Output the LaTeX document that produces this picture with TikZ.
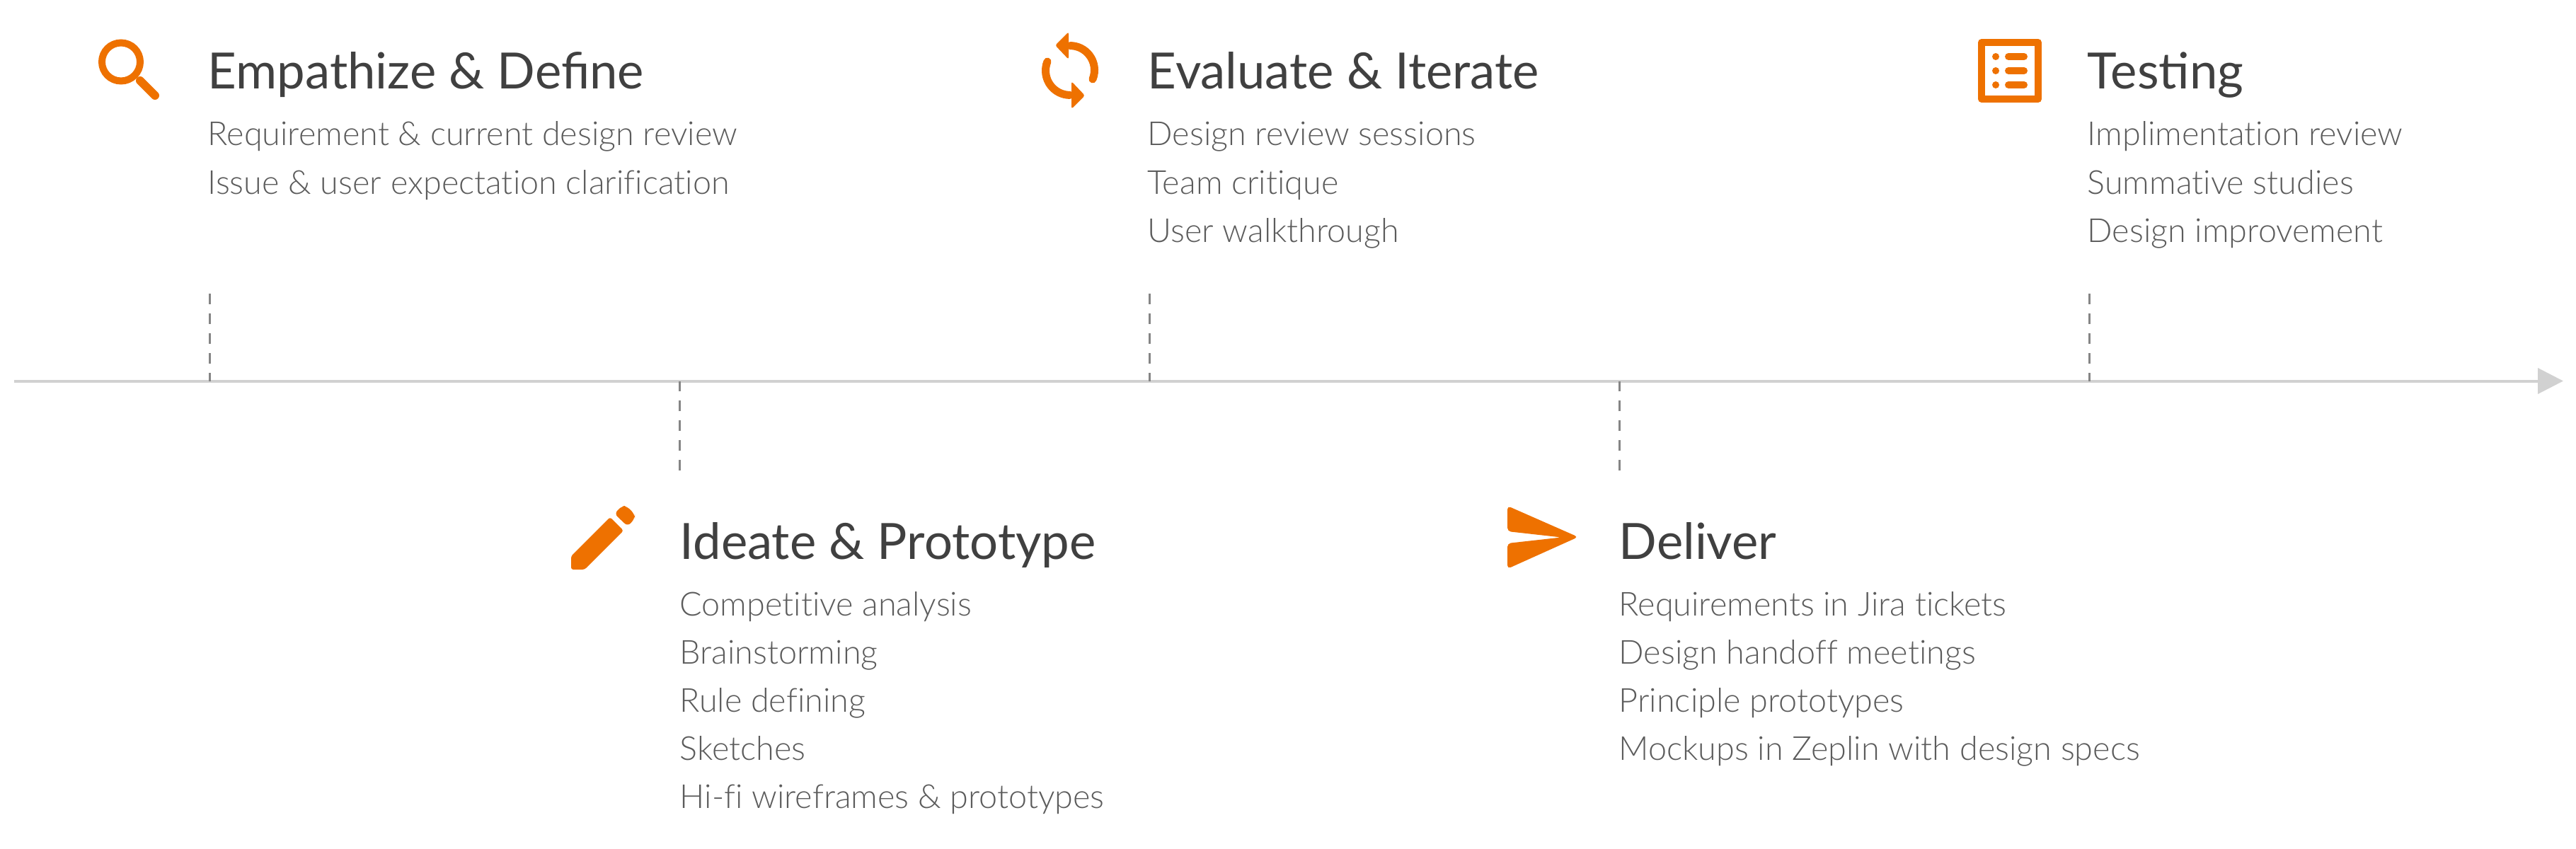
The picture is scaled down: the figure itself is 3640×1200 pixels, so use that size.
\documentclass[tikz,border=0pt]{standalone}
\usepackage{fontspec}
\usetikzlibrary{arrows.meta}
\setmainfont{Lato}
\newfontfamily\itemfont[Ligatures={NoCommon}]{Lato Light}

\definecolor{iconorange}{HTML}{EE7100}
\definecolor{titlegray}{HTML}{404040}
\definecolor{itemgray}{HTML}{5C5C5C}

\tikzset{
  titletext/.style={anchor=base west, inner sep=0, text=titlegray, font=\fontsize{20.1}{24}\selectfont},
  itemtext/.style={anchor=base west, inner sep=0, text=itemgray, font=\itemfont\fontsize{13.3}{16}\selectfont},
  axisline/.style={draw=black!18, line width=0.4mm, -{Triangle[length=3.6mm, width=3.6mm]}},
  tickline/.style={draw=black!48, line width=0.3mm, dash pattern=on 1.5mm off 1.3mm},
  iconstroke/.style={draw=iconorange, line width=1mm},
  iconfill/.style={fill=iconorange, rounded corners=0.3mm},
}

\begin{document}
\begin{tikzpicture}[x=0.1mm, y=-0.1mm]
\useasboundingbox (0,0) rectangle (3640,1200);

% axis
\coordinate (axisstart) at (20,538.5);
\coordinate (axisend) at (3622,538.5);
\draw[axisline] (axisstart) -- (axisend);

% ticks
\foreach \name/\x/\yend in {empathize/296/415, ideate/960/665, evaluate/1624/415, deliver/2288/665, testing/2952/415} {
  \coordinate (\name-foot) at (\x,538.5);
  \coordinate (\name-end) at (\x,\yend);
  \draw[tickline] (\name-end) -- (\name-foot);
};

% upper texts
\node[titletext] (empathize) at (293,126) {Empathize \& Define};
\node[itemtext] (empathize-1) at (293,206) {Requirement \& current design review};
\node[itemtext] (empathize-2) at (293,274) {Issue \& user expectation clarification};

\node[titletext] (evaluate) at (1621,126) {Evaluate \& Iterate};
\node[itemtext] (evaluate-1) at (1621,206) {Design review sessions};
\node[itemtext] (evaluate-2) at (1621,274) {Team critique};
\node[itemtext] (evaluate-3) at (1621,342) {User walkthrough};

\node[titletext] (testing) at (2949,126) {Testing};
\node[itemtext] (testing-1) at (2949,206) {Implimentation review};
\node[itemtext] (testing-2) at (2949,274) {Summative studies};
\node[itemtext] (testing-3) at (2949,342) {Design improvement};

% lower texts
\node[titletext] (ideate) at (960,790) {Ideate \& Prototype};
\node[itemtext] (ideate-1) at (960,870) {Competitive analysis};
\node[itemtext] (ideate-2) at (960,938) {Brainstorming};
\node[itemtext] (ideate-3) at (960,1006) {Rule defining};
\node[itemtext] (ideate-4) at (960,1074) {Sketches};
\node[itemtext] (ideate-5) at (960,1142) {Hi-fi wireframes \& prototypes};

\node[titletext] (deliver) at (2287,790) {Deliver};
\node[itemtext] (deliver-1) at (2287,870) {Requirements in Jira tickets};
\node[itemtext] (deliver-2) at (2287,938) {Design handoff meetings};
\node[itemtext] (deliver-3) at (2287,1006) {Principle prototypes};
\node[itemtext] (deliver-4) at (2287,1074) {Mockups in Zeplin with design specs};

% magnifier
\draw[iconstroke] (171,87.5) circle (27);
\draw[iconstroke, line width=1.2mm, line cap=round] (198,114) -- (219,135);

% refresh
\draw[iconstroke, line width=1.1mm, line cap=round] (1544,112) arc[start angle=22, end angle=-90, radius=34.5];
\fill[iconfill] (1491,64) -- (1510,45) -- (1510,84) -- cycle;
\draw[iconstroke, line width=1.1mm, line cap=round] (1480,87) arc[start angle=202, end angle=90, radius=34.5];
\fill[iconfill] (1533,135) -- (1514,154) -- (1514,115) -- cycle;

% list
\draw[iconstroke, line join=round] (2800,60) rectangle (2880,140);
\foreach \y in {80, 100, 120} {
  \fill[iconorange] (2820,\y) circle (5);
  \draw[iconstroke, line cap=round] (2838,\y) -- (2860,\y);
};

% pencil
\fill[iconfill] (862,731) -- (881,750) -- (826,805) -- (807,805) -- (807,786) -- cycle;
\fill[iconfill, rounded corners=0.6mm] (868,726) -- (879,715) -- (885,715) -- (897,727) -- (897,733) -- (887,744) -- cycle;

% send
\fill[iconfill, rounded corners=0.5mm] (2230,759) -- (2130,715) -- (2130,751) -- (2206,759.5) -- (2130,768) -- (2130,804) -- cycle;

\end{tikzpicture}
\end{document}
